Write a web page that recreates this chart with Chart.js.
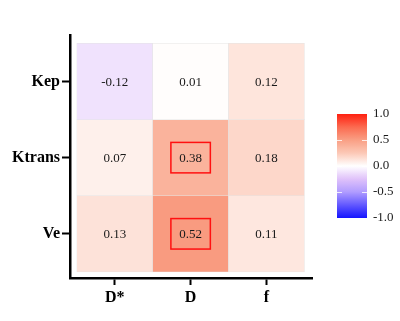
<!DOCTYPE html>
<html><head><meta charset="utf-8">
<script src="https://cdn.jsdelivr.net/npm/chart.js@4/dist/chart.umd.min.js"></script>
<style>html,body{margin:0;padding:0;background:#fff}#wrap{width:400px;height:321px}</style>
</head><body><div id="wrap"><canvas id="c" width="400" height="321"></canvas></div>
<script>
const colLabels = ['D*', 'D', 'f'];
const rowLabels = ['Kep', 'Ktrans', 'Ve'];
const rowKep = [-0.12, 0.01, 0.12];
const rowKtrans = [0.07, 0.38, 0.18];
const rowVe = [0.13, 0.52, 0.11];
const highlighted = [[1, 1], [1, 2]]; // [col, row]
const colorbarTicks = [1, 0.5, 0, -0.5, -1];
const colorbarTickLabels = ['1.0', '0.5', '0.0', '-0.5', '-1.0'];

const cmapStops = [
  [-1, [20, 20, 255]], [-0.5, [176, 156, 255]], [-0.25, [224, 194, 250]],
  [0, [255, 255, 255]], [0.25, [252, 200, 182]], [0.5, [249, 159, 132]],
  [0.75, [251, 106, 80]], [1, [255, 32, 16]]
];
function cmap(v) {
  for (let i = 0; i < cmapStops.length - 1; i++) {
    const [a, ca] = cmapStops[i], [b, cb] = cmapStops[i + 1];
    if (v >= a && v <= b) {
      const t = (v - a) / (b - a);
      const c = ca.map((x, k) => Math.round(x + (cb[k] - x) * t));
      return `rgb(${c[0]},${c[1]},${c[2]})`;
    }
  }
  return 'rgb(255,255,255)';
}

const rows = [rowKep, rowKtrans, rowVe];
const datasets = rows.map((vals, r) => ({
  label: rowLabels[r],
  data: vals.map((v, c) => ({ x: c, y: [r - 0.5, r + 0.5], v })),
  backgroundColor: vals.map(cmap),
  borderColor: '#e4e4e4',
  borderWidth: 0.5,
  borderSkipped: false,
  grouped: false,
  barPercentage: 1,
  categoryPercentage: 1
}));

const SERIF = '"Liberation Serif", "Times New Roman", serif';

const cellText = {
  id: 'cellText',
  afterDatasetsDraw(chart) {
    const { ctx, scales: { x, y } } = chart;
    ctx.save();
    ctx.font = `13px ${SERIF}`;
    ctx.fillStyle = '#1a1a1a';
    ctx.textAlign = 'center';
    ctx.textBaseline = 'middle';
    rows.forEach((vals, r) => vals.forEach((v, c) => {
      ctx.fillText(v.toFixed(2), x.getPixelForValue(c), y.getPixelForValue(r) + 1);
    }));
    ctx.strokeStyle = '#ff1010';
    ctx.lineWidth = 1.5;
    highlighted.forEach(([c, r]) => {
      const cx = x.getPixelForValue(c), cy = y.getPixelForValue(r);
      const hw = Math.abs(x.getPixelForValue(0.26) - x.getPixelForValue(0));
      const hh = Math.abs(y.getPixelForValue(0.2) - y.getPixelForValue(0));
      ctx.strokeRect(cx - hw, cy - hh, hw * 2, hh * 2);
    });
    ctx.restore();
  }
};

const colorbar = {
  id: 'colorbar',
  afterDraw(chart) {
    const { ctx } = chart;
    const x0 = 337, w = 30, top = 114, h = 104;
    const pix = v => top + (1 - v) / 2 * h;
    ctx.save();
    const g = ctx.createLinearGradient(0, top, 0, top + h);
    for (let i = 0; i <= 40; i++) {
      const v = 1 - i / 20;
      g.addColorStop(i / 40, cmap(v));
    }
    ctx.fillStyle = g;
    ctx.fillRect(x0, top, w, h);
    ctx.strokeStyle = 'rgba(255,255,255,0.8)';
    ctx.lineWidth = 1;
    colorbarTicks.forEach(v => {
      if (v === 1 || v === -1) return;
      const py = Math.round(pix(v)) + 0.5;
      ctx.beginPath();
      ctx.moveTo(x0, py); ctx.lineTo(x0 + 5, py);
      ctx.moveTo(x0 + w - 5, py); ctx.lineTo(x0 + w, py);
      ctx.stroke();
    });
    ctx.font = `13px ${SERIF}`;
    ctx.fillStyle = '#1a1a1a';
    ctx.textAlign = 'left';
    ctx.textBaseline = 'middle';
    colorbarTicks.forEach((v, i) => ctx.fillText(colorbarTickLabels[i], x0 + w + 6, pix(v)));
    ctx.restore();
  }
};

new Chart(document.getElementById('c'), {
  type: 'bar',
  data: { datasets },
  options: {
    responsive: false,
    animation: false,
    events: [],
    layout: { padding: { left: 0, top: 35, right: 88, bottom: 0 } },
    plugins: { legend: { display: false }, tooltip: { enabled: false } },
    scales: {
      x: {
        type: 'linear', min: -0.59, max: 2.6, stacked: true, offset: false,
        afterBuildTicks: s => { s.ticks = colLabels.map((_, i) => ({ value: i })); },
        afterFit: s => { s.height = 43; },
        ticks: { callback: v => colLabels[v], color: '#000', font: { family: SERIF, size: 16, weight: 'bold' }, padding: 3, maxRotation: 0 },
        grid: { offset: false, drawOnChartArea: false, drawTicks: true, tickLength: 7, tickColor: '#000', tickWidth: 2 },
        border: { color: '#000', width: 2.5 }
      },
      y: {
        type: 'linear', min: -0.61, max: 2.58, reverse: true, stacked: false,
        afterBuildTicks: s => { s.ticks = rowLabels.map((_, i) => ({ value: i })); },
        afterFit: s => { s.width = 70; },
        ticks: { callback: v => rowLabels[v], color: '#000', font: { family: SERIF, size: 16, weight: 'bold' }, padding: 2 },
        grid: { drawOnChartArea: false, drawTicks: true, tickLength: 8, tickColor: '#000', tickWidth: 2 },
        border: { color: '#000', width: 2.5 }
      }
    }
  },
  plugins: [cellText, colorbar]
});
</script>
</body></html>
